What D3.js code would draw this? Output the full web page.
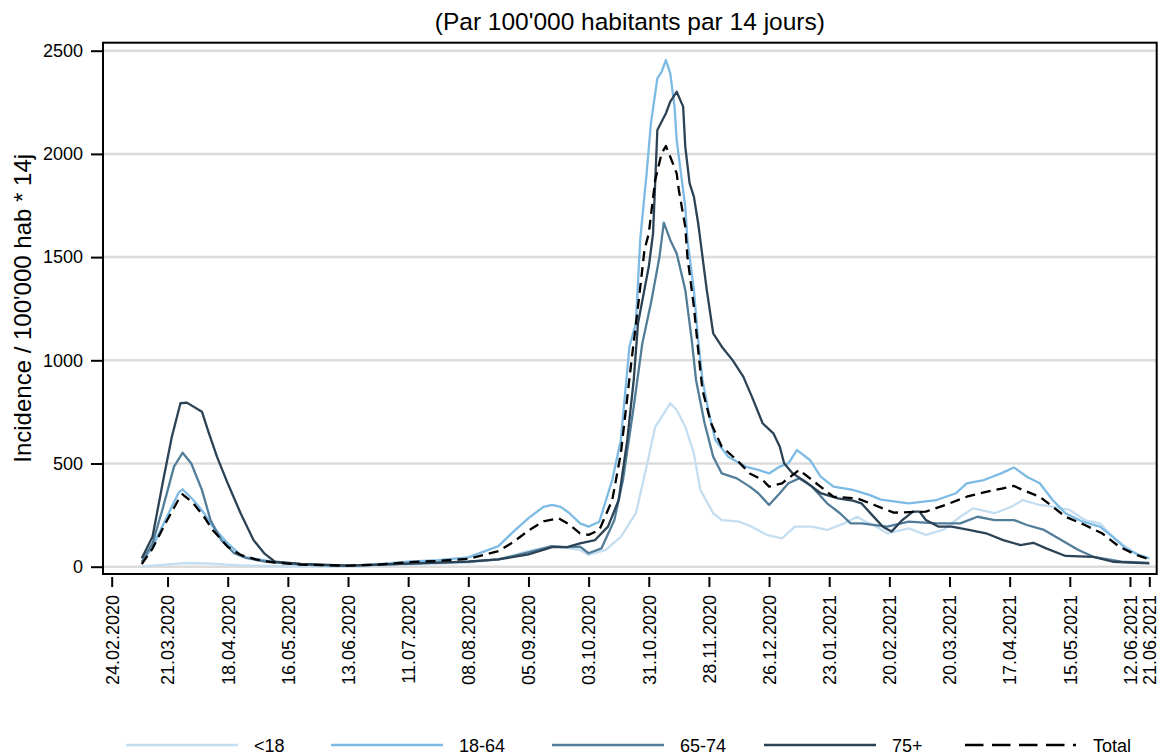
<!DOCTYPE html>
<html>
<head>
<meta charset="utf-8">
<script src="https://cdn.jsdelivr.net/npm/d3@7"></script>
<style>
    body { margin: 0; background: #fff; }
    text { font-family: "Liberation Sans", Arial, sans-serif; }
</style>
</head>
<body>
<div id="chart-area"></div>
<script>
/*
*    Incidence par classe d'age, 14 jours
*/

// Legend / series names
const groups = ["<18", "18-64", "65-74", "75+", "Total"];
const colors = ["#c4def1", "#7dbae4", "#527d99", "#2c4255", "#000000"];

// Axis ticks
const yTicks = [0, 500, 1000, 1500, 2000, 2500];
const xTickLabels = ["24.02.2020", "21.03.2020", "18.04.2020", "16.05.2020", "13.06.2020",
    "11.07.2020", "08.08.2020", "05.09.2020", "03.10.2020", "31.10.2020", "28.11.2020",
    "26.12.2020", "23.01.2021", "20.02.2021", "20.03.2021", "17.04.2021", "15.05.2021",
    "12.06.2021", "21.06.2021"];

// Series values [date, incidence]
const under18 = [
    ["09.03.2020", 2], ["20.03.2020", 10], ["30.03.2020", 18], ["10.04.2020", 15],
    ["24.04.2020", 6], ["10.05.2020", 3], ["13.06.2020", 2], ["11.07.2020", 10],
    ["25.07.2020", 15], ["08.08.2020", 20], ["22.08.2020", 35], ["05.09.2020", 75],
    ["16.09.2020", 100], ["23.09.2020", 90], ["29.09.2020", 81], ["03.10.2020", 57],
    ["11.10.2020", 81], ["18.10.2020", 145], ["25.10.2020", 259], ["30.10.2020", 485],
    ["03.11.2020", 678], ["08.11.2020", 759], ["10.11.2020", 792], ["13.11.2020", 759],
    ["17.11.2020", 678], ["21.11.2020", 549], ["24.11.2020", 372], ["30.11.2020", 259],
    ["04.12.2020", 226], ["12.12.2020", 218], ["18.12.2020", 194], ["25.12.2020", 154],
    ["01.01.2021", 137], ["07.01.2021", 194], ["15.01.2021", 194], ["22.01.2021", 178],
    ["30.01.2021", 210], ["05.02.2021", 242], ["09.02.2021", 218], ["14.02.2021", 194],
    ["19.02.2021", 162], ["01.03.2021", 186], ["09.03.2021", 154], ["17.03.2021", 178],
    ["25.03.2021", 242], ["31.03.2021", 283], ["10.04.2021", 259], ["18.04.2021", 291],
    ["23.04.2021", 323], ["01.05.2021", 299], ["07.05.2021", 291], ["15.05.2021", 275],
    ["22.05.2021", 226], ["29.05.2021", 210], ["04.06.2021", 145], ["10.06.2021", 97],
    ["16.06.2021", 57], ["21.06.2021", 41]
];

const age18to64 = [
    ["09.03.2020", 20], ["14.03.2020", 97], ["20.03.2020", 226], ["26.03.2020", 356],
    ["28.03.2020", 375], ["02.04.2020", 323], ["07.04.2020", 259], ["11.04.2020", 194],
    ["18.04.2020", 113], ["25.04.2020", 48], ["06.05.2020", 29], ["16.05.2020", 15],
    ["30.05.2020", 7], ["13.06.2020", 5], ["27.06.2020", 12], ["11.07.2020", 25],
    ["25.07.2020", 32], ["08.08.2020", 45], ["22.08.2020", 100], ["29.08.2020", 170],
    ["05.09.2020", 235], ["12.09.2020", 290], ["16.09.2020", 300], ["20.09.2020", 290],
    ["24.09.2020", 260], ["29.09.2020", 210], ["03.10.2020", 194], ["08.10.2020", 218],
    ["14.10.2020", 420], ["18.10.2020", 614], ["22.10.2020", 1066], ["25.10.2020", 1179],
    ["27.10.2020", 1583], ["30.10.2020", 1906], ["01.11.2020", 2148], ["04.11.2020", 2366],
    ["06.11.2020", 2398], ["08.11.2020", 2455], ["10.11.2020", 2390], ["12.11.2020", 2229],
    ["13.11.2020", 2067], ["15.11.2020", 1906], ["17.11.2020", 1744], ["18.11.2020", 1583],
    ["21.11.2020", 1341], ["23.11.2020", 1099], ["25.11.2020", 905], ["28.11.2020", 743],
    ["01.12.2020", 614], ["07.12.2020", 533], ["15.12.2020", 485], ["21.12.2020", 469],
    ["26.12.2020", 452], ["31.12.2020", 485], ["04.01.2021", 501], ["08.01.2021", 565],
    ["14.01.2021", 517], ["19.01.2021", 436], ["25.01.2021", 388], ["03.02.2021", 372],
    ["11.02.2021", 347], ["16.02.2021", 325], ["01.03.2021", 307], ["14.03.2021", 323],
    ["23.03.2021", 356], ["28.03.2021", 404], ["05.04.2021", 420], ["13.04.2021", 452],
    ["19.04.2021", 481], ["25.04.2021", 436], ["01.05.2021", 404], ["07.05.2021", 323],
    ["13.05.2021", 259], ["21.05.2021", 218], ["29.05.2021", 194], ["04.06.2021", 145],
    ["10.06.2021", 89], ["16.06.2021", 57], ["21.06.2021", 41]
];

const age65to74 = [
    ["09.03.2020", 24], ["14.03.2020", 113], ["19.03.2020", 291], ["24.03.2020", 485],
    ["28.03.2020", 552], ["01.04.2020", 501], ["06.04.2020", 372], ["10.04.2020", 226],
    ["15.04.2020", 129], ["21.04.2020", 65], ["27.04.2020", 41], ["06.05.2020", 24],
    ["22.05.2020", 12], ["13.06.2020", 4], ["11.07.2020", 15], ["25.07.2020", 20],
    ["08.08.2020", 25], ["22.08.2020", 35], ["05.09.2020", 70], ["16.09.2020", 100],
    ["23.09.2020", 95], ["29.09.2020", 97], ["03.10.2020", 65], ["09.10.2020", 89],
    ["15.10.2020", 226], ["19.10.2020", 420], ["24.10.2020", 775], ["28.10.2020", 1082],
    ["01.11.2020", 1276], ["05.11.2020", 1502], ["07.11.2020", 1667], ["10.11.2020", 1583],
    ["13.11.2020", 1518], ["17.11.2020", 1341], ["20.11.2020", 1099], ["22.11.2020", 905],
    ["26.11.2020", 695], ["30.11.2020", 533], ["04.12.2020", 452], ["11.12.2020", 428],
    ["17.12.2020", 388], ["21.12.2020", 356], ["26.12.2020", 299], ["31.12.2020", 356],
    ["04.01.2021", 404], ["09.01.2021", 428], ["15.01.2021", 388], ["22.01.2021", 307],
    ["28.01.2021", 259], ["02.02.2021", 210], ["07.02.2021", 210], ["19.02.2021", 194],
    ["01.03.2021", 218], ["14.03.2021", 210], ["25.03.2021", 210], ["02.04.2021", 242],
    ["10.04.2021", 226], ["19.04.2021", 226], ["25.04.2021", 202], ["03.05.2021", 178],
    ["11.05.2021", 129], ["19.05.2021", 81], ["26.05.2021", 48], ["08.06.2021", 24],
    ["21.06.2021", 19]
];

const age75plus = [
    ["09.03.2020", 41], ["14.03.2020", 145], ["19.03.2020", 420], ["23.03.2020", 630],
    ["27.03.2020", 792], ["30.03.2020", 795], ["06.04.2020", 751], ["09.04.2020", 654],
    ["13.04.2020", 533], ["18.04.2020", 404], ["24.04.2020", 259], ["30.04.2020", 129],
    ["05.05.2020", 65], ["10.05.2020", 24], ["22.05.2020", 13], ["13.06.2020", 5],
    ["11.07.2020", 15], ["25.07.2020", 20], ["08.08.2020", 25], ["22.08.2020", 35],
    ["05.09.2020", 60], ["16.09.2020", 95], ["23.09.2020", 95], ["29.09.2020", 113],
    ["06.10.2020", 129], ["12.10.2020", 194], ["17.10.2020", 323], ["21.10.2020", 614],
    ["24.10.2020", 905], ["26.10.2020", 1179], ["31.10.2020", 1453], ["02.11.2020", 1615],
    ["04.11.2020", 2116], ["08.11.2020", 2197], ["10.11.2020", 2253], ["13.11.2020", 2301],
    ["16.11.2020", 2229], ["17.11.2020", 2035], ["19.11.2020", 1858], ["21.11.2020", 1793],
    ["23.11.2020", 1664], ["24.11.2020", 1583], ["27.11.2020", 1341], ["30.11.2020", 1131],
    ["04.12.2020", 1066], ["09.12.2020", 1001], ["14.12.2020", 921], ["18.12.2020", 824],
    ["23.12.2020", 695], ["28.12.2020", 646], ["31.12.2020", 581], ["02.01.2021", 501],
    ["06.01.2021", 452], ["13.01.2021", 404], ["19.01.2021", 356], ["27.01.2021", 331],
    ["03.02.2021", 320], ["07.02.2021", 307], ["12.02.2021", 250], ["17.02.2021", 194],
    ["21.02.2021", 170], ["26.02.2021", 226], ["03.03.2021", 267], ["06.03.2021", 267],
    ["09.03.2021", 226], ["15.03.2021", 194], ["21.03.2021", 194], ["29.03.2021", 178],
    ["06.04.2021", 162], ["14.04.2021", 129], ["22.04.2021", 105], ["28.04.2021", 116],
    ["04.05.2021", 89], ["13.05.2021", 52], ["26.05.2021", 48], ["04.06.2021", 24],
    ["21.06.2021", 16]
];

const total = [
    ["09.03.2020", 12], ["14.03.2020", 88], ["20.03.2020", 210], ["26.03.2020", 323],
    ["28.03.2020", 351], ["02.04.2020", 307], ["07.04.2020", 242], ["11.04.2020", 178],
    ["18.04.2020", 97], ["24.04.2020", 57], ["01.05.2020", 36], ["10.05.2020", 20],
    ["22.05.2020", 10], ["13.06.2020", 5], ["27.06.2020", 10], ["11.07.2020", 22],
    ["25.07.2020", 28], ["08.08.2020", 38], ["22.08.2020", 75], ["29.08.2020", 120],
    ["05.09.2020", 175], ["12.09.2020", 220], ["19.09.2020", 235], ["24.09.2020", 205],
    ["29.09.2020", 162], ["03.10.2020", 154], ["08.10.2020", 178], ["14.10.2020", 323],
    ["18.10.2020", 549], ["23.10.2020", 1001], ["26.10.2020", 1260], ["29.10.2020", 1534],
    ["31.10.2020", 1615], ["03.11.2020", 1873], ["06.11.2020", 2003], ["08.11.2020", 2038],
    ["10.11.2020", 1986], ["13.11.2020", 1906], ["14.11.2020", 1825], ["17.11.2020", 1647],
    ["18.11.2020", 1502], ["21.11.2020", 1260], ["23.11.2020", 1050], ["25.11.2020", 856],
    ["29.11.2020", 695], ["04.12.2020", 581], ["11.12.2020", 517], ["17.12.2020", 452],
    ["23.12.2020", 420], ["26.12.2020", 388], ["01.01.2021", 404], ["09.01.2021", 469],
    ["15.01.2021", 420], ["25.01.2021", 339], ["05.02.2021", 331], ["13.02.2021", 299],
    ["22.02.2021", 262], ["09.03.2021", 267], ["18.03.2021", 299], ["28.03.2021", 339],
    ["06.04.2021", 363], ["14.04.2021", 380], ["19.04.2021", 391], ["23.04.2021", 372],
    ["01.05.2021", 339], ["07.05.2021", 291], ["13.05.2021", 242], ["22.05.2021", 202],
    ["30.05.2021", 162], ["07.06.2021", 97], ["15.06.2021", 57], ["21.06.2021", 36]
];

const seriesData = [under18, age18to64, age65to74, age75plus, total];

const width = 1161, height = 755;
const frame = { left: 103, top: 42.7, right: 1156.7, bottom: 574 };

const parseTime = d3.timeParse("%d.%m.%Y");
const formatTime = d3.timeFormat("%d.%m.%Y");

const svg = d3.select("#chart-area").append("svg")
    .attr("width", width)
    .attr("height", height)
    .style("display", "block");

svg.append("rect")
    .attr("width", width)
    .attr("height", height)
    .attr("fill", "#fff");

// Scales
const x = d3.scaleTime()
    .domain([parseTime("24.02.2020"), parseTime("21.06.2021")])
    .range([111.7, 1149.3]);
const y = d3.scaleLinear()
    .domain([0, 2500])
    .range([566.7, 50.7]);

// Gridlines
svg.append("g").selectAll("line")
    .data(yTicks)
    .enter().append("line")
    .attr("x1", frame.left)
    .attr("x2", frame.right)
    .attr("y1", function(d) { return y(d); })
    .attr("y2", function(d) { return y(d); })
    .attr("stroke", "#dcdcdc")
    .attr("stroke-width", 2.5);

// Series lines
const line = d3.line()
    .x(function(d) { return x(parseTime(d[0])); })
    .y(function(d) { return y(d[1]); });

seriesData.forEach(function(data, i) {
    svg.append("path")
        .datum(data)
        .attr("fill", "none")
        .attr("stroke", colors[i])
        .attr("stroke-width", 2.3)
        .attr("stroke-linejoin", "round")
        .attr("stroke-dasharray", groups[i] === "Total" ? "10,6" : null)
        .attr("d", line);
});

// Frame
svg.append("rect")
    .attr("x", frame.left)
    .attr("y", frame.top)
    .attr("width", frame.right - frame.left)
    .attr("height", frame.bottom - frame.top)
    .attr("fill", "none")
    .attr("stroke", "#000")
    .attr("stroke-width", 2);

// Y axis
const yAxis = svg.append("g")
    .attr("transform", "translate(" + (frame.left - 1) + ",0)")
    .call(d3.axisLeft(y)
        .tickValues(yTicks)
        .tickSize(11)
        .tickPadding(8)
        .tickFormat(d3.format("d")));
yAxis.select(".domain").remove();
yAxis.selectAll("line").attr("stroke", "#000").attr("stroke-width", 2);
yAxis.selectAll("text")
    .attr("font-size", 18)
    .attr("fill", "#000")
    .style("font-family", "'Liberation Sans', Arial, sans-serif");

// X axis
const xAxis = svg.append("g")
    .attr("transform", "translate(0,577)")
    .call(d3.axisBottom(x)
        .tickValues(xTickLabels.map(parseTime))
        .tickSize(10)
        .tickFormat(formatTime));
xAxis.select(".domain").remove();
xAxis.selectAll("line").attr("stroke", "#000").attr("stroke-width", 2);
xAxis.selectAll("text")
    .attr("transform", "rotate(-90)")
    .attr("x", -18)
    .attr("y", 0)
    .attr("dy", "0.35em")
    .style("text-anchor", "end")
    .attr("font-size", 18)
    .attr("fill", "#000")
    .style("font-family", "'Liberation Sans', Arial, sans-serif");

// Titles
svg.append("text")
    .attr("x", (frame.left + frame.right) / 2)
    .attr("y", 30)
    .attr("text-anchor", "middle")
    .attr("font-size", 24.5)
    .text("(Par 100'000 habitants par 14 jours)");

svg.append("text")
    .attr("transform", "translate(31," + ((frame.top + frame.bottom) / 2) + ") rotate(-90)")
    .attr("text-anchor", "middle")
    .attr("font-size", 24)
    .text("Incidence / 100'000 hab * 14j");

// Legend
const legendX = [126, 331, 552, 764, 965];
const legend = svg.append("g").selectAll("g")
    .data(groups)
    .enter().append("g")
    .attr("transform", function(d, i) { return "translate(" + legendX[i] + ",745)"; });

legend.append("line")
    .attr("x1", 0)
    .attr("x2", function(d) { return d === "Total" ? 111 : 112; })
    .attr("stroke", function(d, i) { return colors[i]; })
    .attr("stroke-width", 2.6)
    .attr("stroke-dasharray", function(d) { return d === "Total" ? "18.5,8.5" : null; });

legend.append("text")
    .attr("x", 128)
    .attr("y", 6.5)
    .attr("font-size", 18)
    .text(function(d) { return d; });
</script>
</body>
</html>
